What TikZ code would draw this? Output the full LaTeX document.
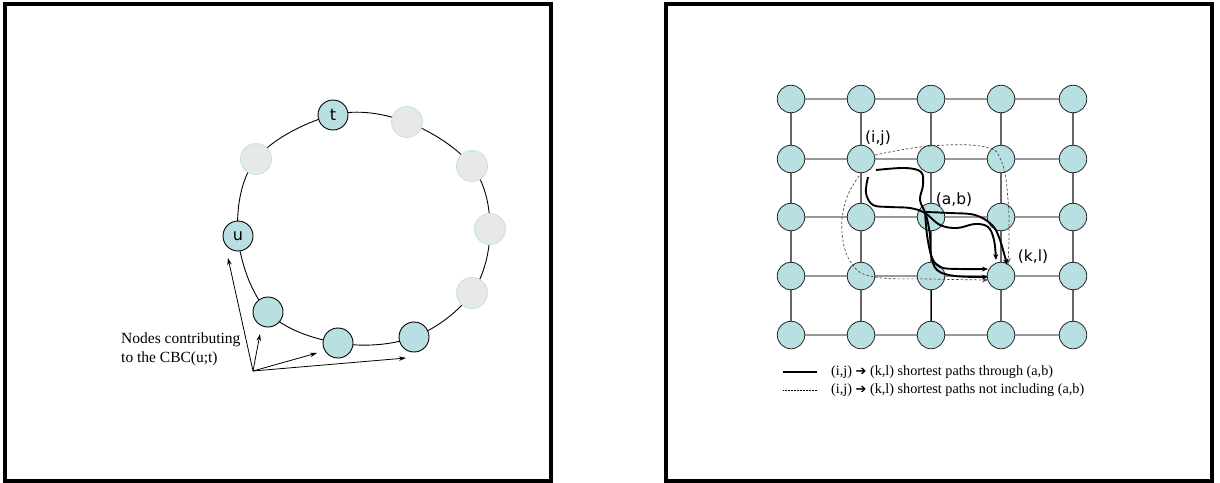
\documentclass[tikz,border=0pt]{standalone}
\usepackage{fontspec}
\usepackage{graphicx}
\setmainfont{Liberation Serif}
\newfontfamily\dvs{DejaVu Sans}
\usetikzlibrary{arrows.meta}
\definecolor{tealfill}{HTML}{B8DFE2}
\definecolor{ghostfill}{HTML}{E8E8E8}
\definecolor{ghostedge}{HTML}{C2E4E7}
\begin{document}
\begin{tikzpicture}[x=1pt,y=-1pt,
  frame/.style={draw=black, line width=3.2pt},
  ring/.style={draw=black, line width=0.9pt},
  vtx/.style={circle, draw=black, fill=tealfill, line width=0.9pt, minimum size=30pt, inner sep=0pt, font=\dvs\fontsize{16}{16}\selectfont},
  ghost/.style={circle, draw=ghostedge, fill=ghostfill, line width=0.9pt, minimum size=31pt, inner sep=0pt},
  gv/.style={circle, draw=black!85, fill=tealfill, line width=0.8pt, minimum size=27.5pt, inner sep=0pt},
  hedge/.style={draw=black!40, line width=1.3pt},
  vedge/.style={draw=black!60, line width=1.3pt},
  ptr/.style={draw=black, line width=0.8pt, -{Stealth[length=7pt,width=4.5pt]}},
  thickp/.style={draw=black, line width=1.9pt, -{Stealth[length=6pt,width=5pt]}},
  dashp/.style={draw=black!70, line width=0.7pt, dash pattern=on 2.5pt off 2pt, -{Stealth[length=6pt,width=5pt]}},
  glabel/.style={font=\dvs\fontsize{15.5}{15.5}\selectfont, inner sep=0pt},
  legtext/.style={anchor=west, inner sep=0pt, font=\fontsize{14.2}{14.2}\selectfont}
]
\useasboundingbox (0,0) rectangle (1220,482);
\draw[frame] (5,4) rectangle (551,481);
\draw[frame] (666,4) rectangle (1212,481);

% ---------- left panel ----------
\draw[ring] plot[smooth cycle, tension=0.6] coordinates {(333,115) (407,122) (472,166) (490,229) (472,293) (414,337) (338,343) (268,312) (238,236) (256,159)};
\node[vtx] (t) at (333,115) {t};
\node[ghost] (n2) at (407,122) {};
\node[ghost] (n3) at (472,166) {};
\node[ghost] (n4) at (490,229) {};
\node[ghost] (n5) at (472,293) {};
\node[vtx] (c3) at (414,337) {};
\node[vtx] (c2) at (338,343) {};
\node[vtx] (c1) at (268,312) {};
\node[vtx] (u) at (238,236) {u};
\node[ghost] (n1) at (256,159) {};

\coordinate (src) at (253,371);
\coordinate (au) at (228,258);
\coordinate (a1) at (260,334);
\coordinate (a2) at (317,353);
\coordinate (a3) at (406,358);
\draw[ptr] (src) -- (au);
\draw[ptr] (src) -- (a1);
\draw[ptr] (src) -- (a2);
\draw[ptr] (src) -- (a3);
\node[anchor=west, align=left, inner sep=0pt, font=\fontsize{15.5}{19}\selectfont] (lbl) at (121,349) {Nodes contributing\\to the CBC(u;t)};

% ---------- right panel ----------
\foreach \r/\y in {1/99,2/159,3/217,4/276,5/335}{
  \foreach \c/\x in {1/791,2/861,3/931,4/1001,5/1073}{
    \coordinate (p-\r-\c) at (\x,\y);
  }
}
\foreach \r in {1,...,5}{
  \foreach \c [evaluate=\c as \d using int(\c+1)] in {1,...,4}{
    \draw[hedge] (p-\r-\c) -- (p-\r-\d);
  }
}
\foreach \c in {1,...,5}{
  \foreach \r [evaluate=\r as \s using int(\r+1)] in {1,...,4}{
    \draw[vedge] (p-\r-\c) -- (p-\s-\c);
  }
}
\draw[black, line width=1pt] (p-4-3) -- (p-5-3);
\foreach \r in {1,...,5}{
  \foreach \c in {1,...,5}{
    \node[gv] (g-\r-\c) at (p-\r-\c) {};
  }
}
\node[glabel] (lij) at (878,138) {(i,j)};
\node[glabel] (lab) at (954,200) {(a,b)};
\node[glabel] (lkl) at (1033,257) {(k,l)};

% dashed paths
\draw[dashp] plot[smooth, tension=0.7] coordinates {(875,155) (930,146) (985,147) (1002,163) (1008,200) (1009,235) (1008,264)};
\draw[dashp] plot[smooth, tension=0.7] coordinates {(859,176) (846,200) (842,233) (852,264) (875,277) (930,279) (988,280)};

% thick paths
\draw[thickp] plot[smooth, tension=0.6] coordinates {(876,170) (905,168) (921,172) (923,185) (920,200) (926,215) (930,235) (931,255) (940,267) (960,269) (988,269)};
\draw[thickp] plot[smooth, tension=0.6] coordinates {(868,177) (866,193) (873,205) (890,207) (910,208) (925,213) (940,225) (957,228) (975,224) (988,227) (994,240) (996,260)};
\draw[thickp] plot[smooth, tension=0.6] coordinates {(925,212) (950,213) (975,215) (992,225) (1000,240) (1007,265)};
\draw[thickp] plot[smooth, tension=0.6] coordinates {(925,212) (927,235) (931,255) (937,270) (955,276) (988,277)};

% legend
\coordinate (l1a) at (783,372); \coordinate (l1b) at (817,372);
\coordinate (l2a) at (783,390); \coordinate (l2b) at (817,390);
\draw[black, line width=2pt] (l1a) -- (l1b);
\draw[black, line width=0.5pt, densely dotted] (l2a) -- (l2b);
\node[legtext] (leg1) at (831,372) {(i,j) {\dvs\fontsize{13}{13}\selectfont ➔} (k,l) shortest paths through (a,b)};
\node[legtext] (leg2) at (831,390) {(i,j) {\dvs\fontsize{13}{13}\selectfont ➔} (k,l) shortest paths not including (a,b)};
\end{tikzpicture}
\end{document}
